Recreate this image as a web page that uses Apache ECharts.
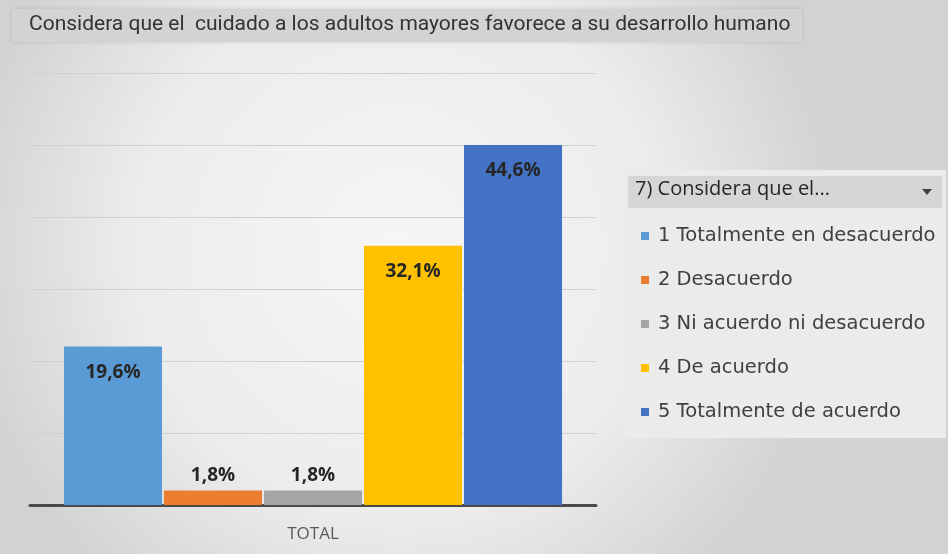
<!DOCTYPE html>
<html><head><meta charset="utf-8">
<script src="https://cdn.jsdelivr.net/npm/echarts@6/dist/echarts.min.js"></script>
<style>html,body{margin:0;padding:0;}#c{width:948px;height:554px;}</style>
</head><body><div id="c"></div>
<script>
const titleText = 'Considera que el  cuidado a los adultos mayores favorece a su desarrollo humano';
const legendTitle = '7) Considera que el...';
const categories = ['TOTAL'];
const seriesNames = ['1 Totalmente en desacuerdo','2 Desacuerdo','3 Ni acuerdo ni desacuerdo','4 De acuerdo','5 Totalmente de acuerdo'];
const counts = [11, 1, 1, 18, 25];
const colors = ['#5B9BD5','#ED7D31','#A5A5A5','#FFC000','#4472C4'];
const total = counts.reduce((a,b)=>a+b,0);

const chart = echarts.init(document.getElementById('c'));
const series = seriesNames.map((name,i)=>({
  name, type:'bar', data:[counts[i]],
  barGap:'2%', barCategoryGap:'12%',
  itemStyle:{color:colors[i]},
  label:{show:true,
    position: counts[i]/total > 0.1 ? 'insideTop' : 'top',
    distance: counts[i]/total > 0.1 ? 16 : 6,
    formatter: p => (p.value/total*100).toFixed(1).replace('.',',')+'%',
    fontFamily:'Open Sans', fontWeight:'bold', fontSize:19, color:'#262626'}
}));
chart.setOption({
  backgroundColor:{type:'radial',x:0.42,y:0.45,r:0.8,colorStops:[{offset:0,color:'#f6f6f6'},{offset:0.6,color:'#ececec'},{offset:1,color:'#d2d2d2'}]},
  animation:false,
  grid:{left:30,right:352,top:73,bottom:49},
  xAxis:{type:'category',data:categories,
    axisLine:{lineStyle:{color:'#4a4a4a',width:3}},axisTick:{show:false},
    axisLabel:{color:'#595959',fontSize:17,fontFamily:'Open Sans',margin:21}},
  yAxis:{type:'value',min:0,max:30,interval:5,axisLabel:{show:false},axisLine:{show:false},axisTick:{show:false},
    splitLine:{lineStyle:{color:'#d0d0d0',width:1}}},
  legend:{orient:'vertical',left:636,top:221,itemWidth:8,itemHeight:8,itemGap:24,icon:'rect',
    textStyle:{fontFamily:'DejaVu Sans',fontSize:19.5,color:'#404040',padding:[0,0,0,4]},data:seriesNames},
  graphic:[
    {type:'rect',shape:{x:12,y:9,width:790,height:33},style:{fill:'#d3d3d3',shadowBlur:4,shadowColor:'rgba(0,0,0,0.12)'},z:0},
    {type:'text',left:29,top:14,style:{text:titleText,fontFamily:'Roboto',fontSize:21,fill:'#333333'},z:1},
    {type:'rect',shape:{x:624,y:170,width:322,height:268},style:{fill:'#ebebeb'},z:-1},
    {type:'rect',shape:{x:628,y:176,width:314,height:32},style:{fill:'#d6d6d6'},z:0},
    {type:'text',left:635,top:179,style:{text:legendTitle,fontFamily:'Open Sans',fontSize:20,fill:'#262626'},z:1},
    {type:'polygon',shape:{points:[[922,189],[932,189],[927,195]]},style:{fill:'#404040'},z:1}
  ],
  series
});
</script></body></html>
